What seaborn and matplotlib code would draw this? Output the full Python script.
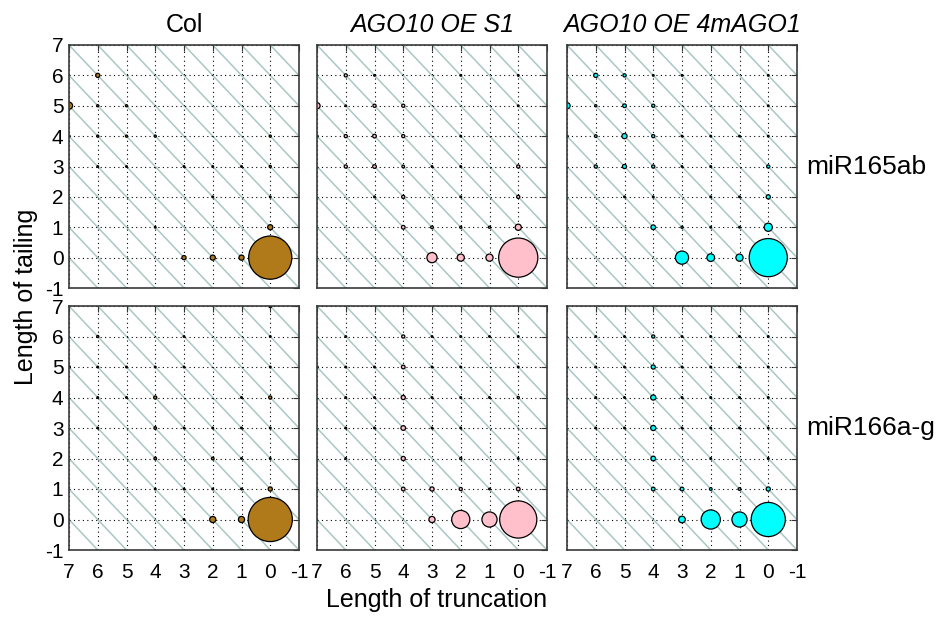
import matplotlib
matplotlib.use("Agg")
import matplotlib.pyplot as plt
import seaborn as sns
import pandas as pd
import numpy as np

# ---------------- data (truncation, tailing, marker diameter in px) ----------------
col_165_trunc = [0, 1, 2, 3, 0, 4, 2, 0, 6, 5, 3, 2, 1, 0, 6, 5, 4, 0, 7, 7, 6, 5, 6]
col_165_tail  = [0, 0, 0, 0, 1, 1, 2, 2, 3, 3, 3, 3, 3, 3, 4, 4, 4, 4, 4, 5, 5, 5, 6]
col_165_size  = [44, 6, 6, 5, 6, 2.5, 2.5, 2.5, 2.5, 2.5, 2.5, 2.5, 2.5, 3, 3, 3, 3, 3, 3, 8, 3, 3, 5]

s1_165_trunc = [0, 1, 2, 3, 0, 1, 2, 3, 4, 0, 2, 4, 5, 0, 2, 3, 4, 5, 6, 2, 4, 5, 6, 7, 0, 4, 5, 6, 7, 0, 2, 5, 6]
s1_165_tail  = [0, 0, 0, 0, 1, 1, 1, 1, 1, 2, 2, 2, 2, 3, 3, 3, 3, 3, 3, 4, 4, 4, 4, 4, 5, 5, 5, 5, 5, 6, 6, 6, 6]
s1_165_size  = [40, 8, 8, 11, 7, 3, 3, 3.5, 4.5, 4, 2.5, 4, 2.5, 4, 2.5, 2.5, 3.5, 4.5, 4,
                2.5, 4, 4.5, 4, 3, 2.5, 4, 4, 2.5, 7, 2.5, 2.5, 2.5, 4]

m4_165_trunc = [0, 1, 2, 3, 0, 1, 2, 3, 4, 0, 1, 2, 4, 5, 0, 2, 3, 4, 5, 6, 0, 1, 2, 3, 4, 5, 6, 7,
                0, 4, 5, 6, 7, 0, 3, 4, 5, 6]
m4_165_tail  = [0, 0, 0, 0, 1, 1, 1, 1, 1, 2, 2, 2, 2, 2, 3, 3, 3, 3, 3, 3, 4, 4, 4, 4, 4, 4, 4, 4,
                5, 5, 5, 5, 5, 6, 6, 6, 6, 6]
m4_165_size  = [39, 8, 8.5, 14, 9, 2.5, 2.5, 3, 5.5, 5, 2.5, 2.5, 2.5, 2.5, 4, 2.5, 2.5, 4, 5, 4,
                2.5, 2.5, 2.5, 2.5, 4, 6, 3.5, 3, 2.5, 4, 4.5, 3, 7, 2.5, 2.5, 2.5, 4, 5]

col_166_trunc = [0, 1, 2, 3, 0, 1, 2, 3, 4, 0, 1, 2, 4, 0, 1, 2, 3, 4, 6, 0, 1, 4, 5, 6,
                 0, 3, 4, 5, 6, 7, 0, 3, 6, 0]
col_166_tail  = [0, 0, 0, 0, 1, 1, 1, 1, 1, 2, 2, 2, 2, 3, 3, 3, 3, 3, 3, 4, 4, 4, 4, 4,
                 5, 5, 5, 5, 5, 5, 6, 6, 6, 7]
col_166_size  = [45, 7, 7, 2.5, 5, 2.5, 2.5, 2.5, 2.5, 2.5, 2, 3.5, 3.5, 2.5, 2.5, 2.5, 2.5, 3.5, 2.5,
                 4, 2.5, 4, 2.5, 2.5, 2.5, 2.5, 2.5, 2.5, 2.5, 3.5, 2.5, 2.5, 3, 4]

s1_166_trunc = [0, 1, 2, 3, 0, 1, 2, 3, 4, 0, 2, 4, 6, 2, 3, 4, 5, 6, 0, 1, 2, 3, 4, 5, 6,
                0, 2, 3, 4, 5, 6, 7, 0, 1, 2, 3, 4, 6]
s1_166_tail  = [0, 0, 0, 0, 1, 1, 1, 1, 1, 2, 2, 2, 2, 3, 3, 3, 3, 3, 4, 4, 4, 4, 4, 4, 4,
                5, 5, 5, 5, 5, 5, 5, 6, 6, 6, 6, 6, 6]
s1_166_size  = [38, 16, 19, 7, 4.5, 2.5, 4, 5, 4.5, 2.5, 3, 5, 2.5, 2.5, 2.5, 5.5, 2.5, 2.5,
                3, 2.5, 2.5, 2.5, 5, 2.5, 2.5, 2.5, 2.5, 2.5, 4.5, 2.5, 2.5, 3,
                2.5, 2.5, 2.5, 2.5, 4, 2.5]

m4_166_trunc = [0, 1, 2, 3, 0, 1, 2, 3, 4, 0, 2, 4, 0, 1, 2, 3, 4, 5, 6, 0, 1, 2, 3, 4, 5, 6,
                0, 1, 2, 3, 4, 5, 6, 7, 0, 1, 2, 3, 4, 5, 6]
m4_166_tail  = [0, 0, 0, 0, 1, 1, 1, 1, 1, 2, 2, 2, 3, 3, 3, 3, 3, 3, 3, 4, 4, 4, 4, 4, 4, 4,
                5, 5, 5, 5, 5, 5, 5, 5, 6, 6, 6, 6, 6, 6, 6]
m4_166_size  = [35, 16, 20, 7.5, 5, 3.5, 3.5, 4.5, 4.5, 2.5, 2.5, 5.5, 2.5, 2.5, 2.5, 2.5, 6, 2.5, 2.5,
                2.5, 2.5, 2.5, 2.5, 6, 2.5, 2.5, 2.5, 2.5, 2.5, 2.5, 5, 2.5, 2.5, 2.5,
                2.5, 2.5, 2.5, 2.5, 4, 2.5, 2.5]

genotypes = ["Col", "AGO10 OE S1", "AGO10 OE 4mAGO1"]
mirnas = ["miR165ab", "miR166a-g"]
colors = ["#b07a1b", "#ffc0cb", "#00ffff"]
ticks = [-1, 0, 1, 2, 3, 4, 5, 6, 7]
tick_labels = ["-1", "0", "1", "2", "3", "4", "5", "6", "7"]

panels = [
    [(col_165_trunc, col_165_tail, col_165_size),
     (s1_165_trunc, s1_165_tail, s1_165_size),
     (m4_165_trunc, m4_165_tail, m4_165_size)],
    [(col_166_trunc, col_166_tail, col_166_size),
     (s1_166_trunc, s1_166_tail, s1_166_size),
     (m4_166_trunc, m4_166_tail, m4_166_size)],
]

# ---------------- style ----------------
sns.set_style("white")
plt.rcParams["font.family"] = ["Liberation Sans", "DejaVu Sans"]
plt.rcParams["text.color"] = "black"
plt.rcParams["xtick.color"] = "black"
plt.rcParams["ytick.color"] = "black"
plt.rcParams["axes.labelcolor"] = "black"

W, H = 941, 624
fig = plt.figure(figsize=(W / 100, H / 100), dpi=100)

col_left = [69, 317, 567]
col_w = 230
row_top = [45, 306]
row_h = [243, 244]

EDGE_LW = 0.9

for r in range(2):
    for c in range(3):
        ax = fig.add_axes([col_left[c] / W, 1 - (row_top[r] + row_h[r]) / H,
                           col_w / W, row_h[r] / H])
        tr, tl, sz = panels[r][c]
        d = np.array(sz, dtype=float)
        area = np.maximum(d * 0.72 - 0.6, 1.2) ** 2
        df = pd.DataFrame({"truncation": tr, "tailing": tl, "area": area})

        # diagonal guide lines (constant length)
        for k in range(-9, 10):
            ax.axline((0, k), slope=1, color="#a9c8c4", lw=1.1, zorder=1)

        lo, hi = df["area"].min(), df["area"].max()
        sns.scatterplot(data=df, x="truncation", y="tailing", size="area",
                        sizes=(lo, hi), size_norm=(lo, hi), color=colors[c],
                        edgecolor="black", linewidth=EDGE_LW, legend=False,
                        ax=ax, zorder=4)

        ax.set_xlim(7, -1)
        ax.set_ylim(-1, 7)
        ax.set_xticks(ticks)
        ax.set_yticks(ticks)
        ax.grid(True, linestyle=(0, (1, 3)), color="black", linewidth=0.8, zorder=2)
        ax.set_axisbelow(False)
        ax.tick_params(direction="in", top=True, right=True, length=4, width=0.8,
                       color="#333333", labelcolor="black", labelsize=15)
        for sp in ax.spines.values():
            sp.set_color("#3a3a3a")
            sp.set_linewidth(1.2)
            sp.set_zorder(5)
        ax.set_xlabel("")
        ax.set_ylabel("")
        if r == 1:
            ax.set_xticklabels(tick_labels)
            ax.tick_params(axis="x", pad=9)
        else:
            ax.set_xticklabels([])
        if c == 0:
            ax.set_yticklabels(tick_labels)
            ax.tick_params(axis="y", pad=4)
        else:
            ax.set_yticklabels([])
        if r == 0:
            ax.set_title(genotypes[c], fontsize=18, pad=9, color="black",
                         style="normal" if c == 0 else "italic")
        if c == 2:
            ax.text(1.04, 0.5, mirnas[r], transform=ax.transAxes, fontsize=19,
                    ha="left", va="center", color="black")

fig.text(0.028, 0.524, "Length of tailing", rotation=90, fontsize=18,
         ha="center", va="center", color="black")
fig.text(0.464, 0.038, "Length of truncation", fontsize=18, ha="center",
         va="center", color="black")

fig.savefig("out.png", dpi=100)
